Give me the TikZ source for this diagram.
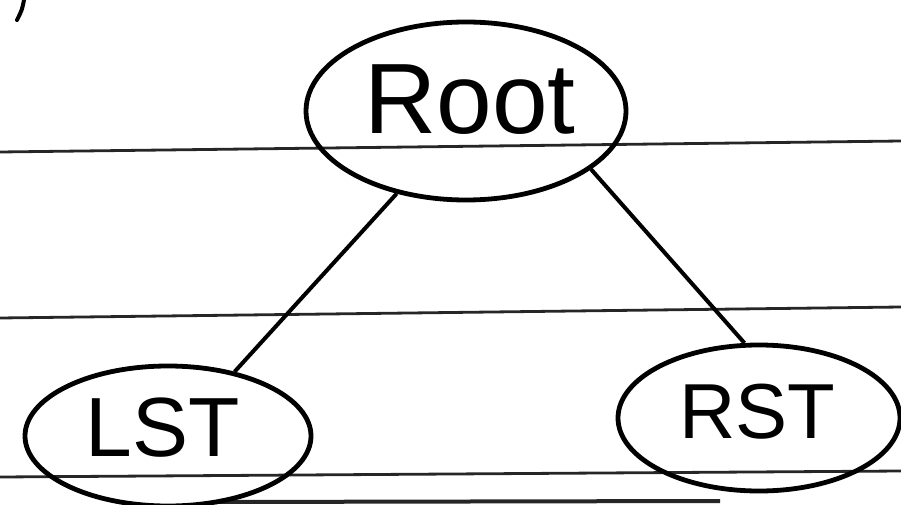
\documentclass[tikz,border=0pt]{standalone}
\usepackage{fontspec}
\setmainfont{Liberation Sans}
\usetikzlibrary{shapes.geometric}
\begin{document}
\begin{tikzpicture}[x=1pt,y=-1pt,
  rule/.style={line width=2.8pt,black!85},
  bubble/.style={draw,ellipse,line width=4.8pt,inner sep=0pt},
  edge/.style={line width=4pt},
  lbl/.style={font=\fontsize{#1}{#1}\selectfont}]
\useasboundingbox (0,0) rectangle (901,505);
% ruled lines
\draw[rule] (0,152) -- (901,141);
\draw[rule] (0,318) -- (901,307);
\draw[rule] (0,477) -- (901,471);
\draw[rule,line width=4pt] (215,502) -- (720,501);
% top-left fragment
\draw[line width=4pt,line cap=round] (24,0) .. controls (22,10) .. (17,20);
% nodes
\node[bubble,minimum width=320pt,minimum height=178pt] (root) at (466,111) {};
\node[lbl=100] (roottxt) at (470,100) {Root};
\node[bubble,minimum width=286pt,minimum height=140pt] (lst) at (168,436) {};
\node[lbl=84] (lsttxt) at (163,428) {LST};
\node[bubble,minimum width=282pt,minimum height=146pt] (rst) at (759,418) {};
\node[lbl=78] (rsttxt) at (757,412) {RST};
% edges
\draw[edge] (root.-130) -- (lst.44);
\draw[edge] (root.-25) -- (rst.101);
\end{tikzpicture}
\end{document}
